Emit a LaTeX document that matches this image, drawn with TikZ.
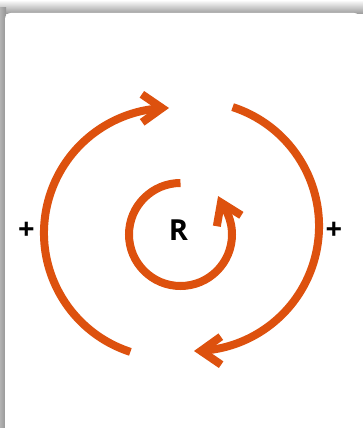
\documentclass[tikz,border=0pt]{standalone}
\usepackage{fontspec}
\setmainfont{Open Sans}
\usetikzlibrary{arrows.meta,bending}
\definecolor{loop}{RGB}{221,81,14}
\tikzset{
  looparc/.style={draw=loop, line width=8pt, line cap=butt},
  headtip/.style={-{Straight Barb[length=20pt,width=28pt,line cap=butt,line join=miter]}},
  chevron/.style={draw=loop, line width=8pt, line cap=butt, line join=miter},
  sign/.style={font=\fontsize{29}{31}\selectfont\bfseries, inner sep=0pt}
}
\begin{document}
\begin{tikzpicture}[x=1pt,y=1pt]
\useasboundingbox (0,0) rectangle (363,428);
% background and shadow
\fill[white] (0,0) rectangle (363,428);
\shade[top color=white, bottom color=black!40] (0,428) rectangle (363,414);
\shade[left color=black!30, right color=black!42] (0,0) rectangle (6,420);
\fill[white, rounded corners=6pt] (5,-10) rectangle (360,415);
% centres
\coordinate (cl) at (169,195);
\coordinate (cr) at (194,202);
\coordinate (ci) at (180.5,193.5);
\coordinate (itip) at (221,225.4);
% left loop arc
\draw[looparc, headtip] (cl) ++(252:125) arc[start angle=252, end angle=90, radius=125];
% right loop arc
\draw[looparc, headtip] (cr) ++(72:125) arc[start angle=72, end angle=-90, radius=125];
% inner reinforcing arc
\draw[looparc] (ci) ++(90:51.5) arc[start angle=90, end angle=392, radius=51.5];
\draw[chevron] (itip) ++(328:24) -- (itip) -- ++(260:24);
% labels
\node[sign] (r) at (178.5,197.5) {R};
\node[sign] (pl) at (26.5,197.5) {+};
\node[sign] (pr) at (334,197) {+};
\end{tikzpicture}
\end{document}
